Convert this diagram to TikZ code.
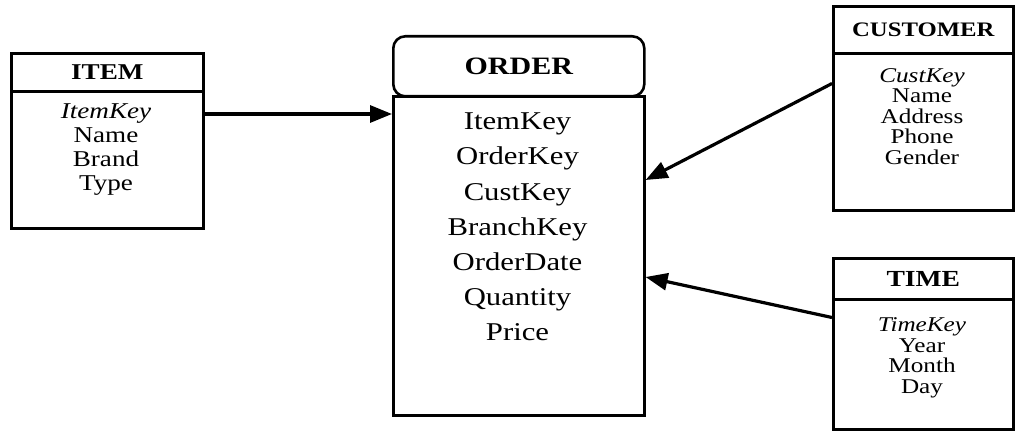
\documentclass[tikz,border=0pt]{standalone}
\usepackage{fontspec}
\setmainfont[FakeStretch=1.2]{Liberation Serif}
\usepackage{tikz}
\usetikzlibrary{arrows.meta, positioning, calc}

\begin{document}
\begin{tikzpicture}[x=0.5pt, y=-0.5pt,
    tbl/.style={draw, line width=1.3pt, inner sep=0pt, anchor=north west},
    ttl/.style={inner sep=0pt, font=\bfseries\fontsize{#1}{#1}\selectfont},
    fld/.style={inner sep=0pt, text height=0.7em, text depth=0.2em,
                font=\fontsize{#1}{#1}\selectfont},
    fk/.style={-{Triangle[length=11pt, width=8.5pt]}, line width=1.6pt}]
    \useasboundingbox (0,0) rectangle (1015,438);

    % Item table
    \node[tbl, minimum width=96pt, minimum height=19pt] (itemhead) at (10,52) {};
    \node[tbl, minimum width=96pt, minimum height=68.5pt] (itembody) at (10,90) {};
    \node[ttl=11.3] (itemtitle) at (itemhead.center) {ITEM};
    \foreach \t [count=\i] in {\textit{ItemKey}, Name, Brand, Type}{
      \node[fld=11.3] (item-\i) at (106, 90+24*\i) {\t};
    }

    % Order table
    \node[tbl, rounded corners=6pt, minimum width=125.5pt, minimum height=30pt]
      (orderhead) at (392,35) {};
    \node[tbl, minimum width=125.5pt, minimum height=159.5pt] (orderbody) at (392,95) {};
    \node[ttl=12.5] (ordertitle) at (orderhead.center) {ORDER};
    \foreach \t [count=\i] in {ItemKey, OrderKey, CustKey, BranchKey,
                               OrderDate, Quantity, Price}{
      \node[fld=12.8] (order-\i) at (517.5, 90+35*\i) {\t};
    }

    % Customer table
    \node[tbl, minimum width=90pt, minimum height=23.5pt] (custhead) at (832,5) {};
    \node[tbl, minimum width=90pt, minimum height=78.5pt] (custbody) at (832,52) {};
    \node[ttl=10.3] (custtitle) at (custhead.center) {CUSTOMER};
    \foreach \t [count=\i] in {\textit{CustKey}, Name, Address, Phone, Gender}{
      \node[fld=10.5] (cust-\i) at (922, 57+20.5*\i) {\t};
    }

    % Time table
    \node[tbl, minimum width=90pt, minimum height=20.5pt] (timehead) at (832,257) {};
    \node[tbl, minimum width=90pt, minimum height=65pt] (timebody) at (832,298) {};
    \node[ttl=11.5] (timetitle) at (timehead.center) {TIME};
    \foreach \t [count=\i] in {\textit{TimeKey}, Year, Month, Day}{
      \node[fld=10.5] (time-\i) at (922, 306+20.5*\i) {\t};
    }

    % Links
    \draw[fk] (item-1 -| itembody.east) -- (item-1 -| orderbody.west);
    \draw[fk] ($(cust-1 -| custbody.west)+(0,6)$) -- ($(order-3 -| orderbody.east)+(0,-15)$);
    \draw[fk] ($(time-1 -| timebody.west)+(0,-9)$) -- ($(order-5 -| orderbody.east)+(0,12)$);
\end{tikzpicture}
\end{document}
